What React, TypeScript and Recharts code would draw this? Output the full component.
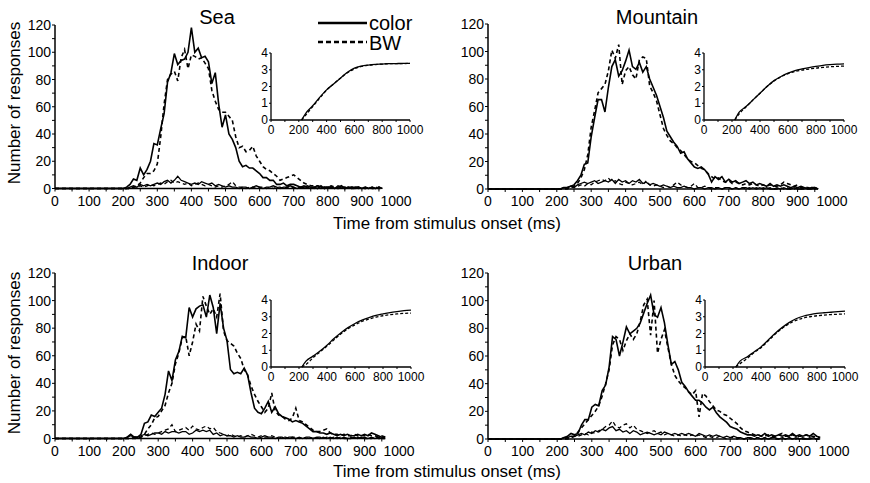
import React from "react";
import { LineChart, Line, XAxis, YAxis, ReferenceLine } from "recharts";

const FONT = "'Liberation Sans', Arial, Helvetica, sans-serif";

// histogram bins (ms after stimulus onset)
const TIMES = [
  0,
  200, 210, 220, 230, 240, 250, 260, 270, 280, 290,
  300, 310, 320, 330, 340, 350, 360, 370, 380, 390,
  400, 410, 420, 430, 440, 450, 460, 470, 480, 490,
  500, 510, 520, 530, 540, 550, 560, 570, 580, 590,
  600, 610, 620, 630, 640, 650, 660, 670, 680, 690,
  700, 710, 720, 730, 740, 750, 760, 770, 780, 790,
  800, 810, 820, 830, 840, 850, 860, 870, 880, 890,
  900, 910, 920, 930, 940, 950, 960,
];

// number of responses per bin: target trials (high) and distractor trials (low)
const SEA_COLOR = [
  0,
  0, 1, 3, 7, 6, 15, 10, 14, 20, 33,
  32, 44, 55, 78, 85, 99, 91, 94, 95, 100,
  118, 100, 103, 96, 97, 93, 77, 85, 62, 45,
  54, 40, 36, 30, 20, 16, 17, 15, 15, 13,
  11, 8, 8, 6, 6, 3, 3, 4, 2, 3,
  3, 2, 1, 1, 2, 1, 1, 0, 2, 0,
  1, 1, 0, 1, 2, 0, 1, 0, 1, 1,
  0, 1, 0, 1, 0, 1, 0,
];
const SEA_BW = [
  0,
  0, 0, 0, 1, 2, 4, 8, 11, 11, 13,
  18, 38, 62, 80, 84, 86, 79, 96, 102, 88,
  98, 97, 95, 96, 92, 88, 72, 64, 58, 56,
  56, 53, 50, 38, 30, 31, 27, 28, 31, 24,
  20, 16, 14, 13, 11, 9, 6, 7, 8, 9,
  10, 8, 6, 4, 3, 2, 2, 2, 1, 1,
  1, 2, 1, 0, 1, 1, 0, 1, 1, 0,
  1, 0, 1, 0, 1, 0, 0,
];
const SEA_COLOR_LOW = [
  0,
  0, 0, 1, 2, 1, 3, 2, 3, 2, 3,
  4, 3, 5, 6, 4, 6, 9, 6, 5, 4,
  3, 4, 3, 5, 4, 3, 4, 2, 3, 2,
  1, 2, 1, 1, 0, 1, 1, 0, 1, 2,
  1, 0, 1, 1, 2, 1, 0, 1, 1, 2,
  1, 0, 1, 2, 1, 0, 1, 2, 1, 0,
  1, 1, 0, 2, 1, 0, 1, 1, 0, 1,
  0, 1, 0, 1, 0, 1, 0,
];
const SEA_BW_LOW = [
  0,
  0, 0, 0, 1, 1, 2, 1, 2, 3, 2,
  3, 4, 3, 5, 6, 4, 5, 4, 3, 4,
  2, 3, 4, 3, 2, 3, 2, 1, 2, 1,
  2, 3, 5, 2, 1, 1, 0, 1, 1, 0,
  1, 1, 0, 1, 0, 1, 1, 0, 1, 0,
  1, 0, 1, 0, 1, 1, 0, 1, 0, 1,
  0, 1, 0, 0, 1, 0, 1, 0, 0, 1,
  0, 0, 1, 0, 0, 1, 0,
];

const MOUNTAIN_COLOR = [
  0,
  0, 0, 1, 1, 2, 3, 6, 10, 18, 19,
  38, 52, 65, 65, 56, 74, 89, 94, 82, 86,
  93, 101, 89, 87, 92, 85, 89, 80, 74, 68,
  60, 52, 42, 38, 34, 31, 26, 27, 22, 19,
  16, 15, 16, 14, 11, 5, 9, 7, 9, 5,
  7, 5, 6, 4, 5, 6, 4, 5, 3, 4,
  3, 2, 4, 2, 3, 2, 3, 2, 1, 2,
  1, 2, 1, 0, 1, 1, 0,
];
const MOUNTAIN_BW = [
  0,
  0, 0, 0, 0, 1, 2, 4, 8, 14, 25,
  45, 57, 70, 73, 76, 86, 101, 95, 105, 76,
  86, 89, 83, 80, 94, 96, 95, 75, 70, 64,
  54, 44, 39, 35, 33, 30, 28, 25, 22, 20,
  19, 17, 15, 14, 11, 9, 7, 8, 6, 5,
  6, 4, 5, 4, 3, 4, 3, 4, 3, 2,
  3, 2, 3, 2, 2, 3, 5, 4, 3, 2,
  3, 1, 1, 1, 0, 1, 0,
];
const MOUNTAIN_COLOR_LOW = [
  0,
  0, 0, 1, 1, 2, 1, 3, 4, 5, 4,
  5, 6, 4, 5, 6, 5, 7, 4, 7, 5,
  6, 4, 6, 5, 7, 4, 5, 3, 4, 3,
  2, 3, 2, 1, 2, 1, 1, 2, 1, 1,
  0, 1, 1, 0, 1, 1, 0, 1, 0, 1,
  1, 0, 1, 0, 1, 1, 0, 1, 0, 1,
  0, 1, 0, 0, 1, 0, 1, 0, 0, 1,
  0, 0, 1, 0, 0, 1, 0,
];
const MOUNTAIN_BW_LOW = [
  0,
  0, 0, 0, 1, 2, 1, 2, 3, 2, 4,
  3, 5, 6, 7, 6, 8, 5, 6, 4, 3,
  5, 4, 3, 4, 5, 3, 6, 3, 2, 3,
  2, 1, 2, 1, 3, 5, 3, 2, 1, 2,
  4, 1, 1, 2, 1, 0, 1, 1, 0, 1,
  1, 0, 1, 0, 1, 0, 1, 0, 1, 0,
  1, 0, 1, 0, 0, 1, 0, 1, 0, 0,
  1, 0, 0, 1, 0, 0, 0,
];

const INDOOR_COLOR = [
  0,
  0, 1, 3, 1, 1, 3, 11, 12, 17, 16,
  19, 22, 32, 49, 42, 57, 63, 74, 73, 95,
  88, 94, 96, 97, 88, 104, 95, 76, 98, 80,
  71, 50, 47, 48, 47, 51, 46, 33, 22, 19,
  18, 22, 27, 19, 23, 18, 16, 15, 14, 12,
  13, 12, 11, 9, 7, 5, 5, 4, 4, 3,
  4, 3, 2, 3, 2, 3, 2, 2, 3, 2,
  3, 2, 4, 3, 2, 1, 1,
];
const INDOOR_BW = [
  0,
  0, 0, 0, 0, 0, 1, 3, 7, 10, 15,
  16, 20, 24, 33, 40, 54, 62, 73, 74, 60,
  70, 83, 78, 103, 96, 90, 94, 88, 105, 78,
  71, 69, 67, 62, 58, 50, 46, 38, 32, 27,
  23, 19, 22, 33, 20, 17, 16, 14, 13, 15,
  22, 13, 12, 10, 8, 6, 5, 5, 6, 7,
  4, 3, 3, 2, 3, 2, 2, 3, 2, 2,
  2, 3, 2, 2, 1, 2, 1,
];
const INDOOR_COLOR_LOW = [
  0,
  0, 1, 2, 1, 1, 2, 3, 2, 3, 4,
  4, 3, 5, 4, 5, 5, 4, 5, 5, 3,
  4, 6, 5, 6, 5, 6, 3, 4, 2, 3,
  2, 2, 1, 2, 1, 1, 2, 1, 1, 0,
  1, 2, 1, 1, 0, 1, 1, 0, 1, 1,
  0, 1, 0, 1, 1, 0, 1, 0, 1, 0,
  1, 0, 1, 0, 1, 0, 0, 1, 0, 1,
  0, 0, 1, 0, 1, 0, 0,
];
const INDOOR_BW_LOW = [
  0,
  0, 0, 0, 1, 1, 1, 2, 3, 4, 3,
  4, 5, 6, 7, 10, 5, 6, 7, 8, 6,
  9, 7, 6, 8, 9, 7, 8, 5, 4, 3,
  2, 3, 2, 1, 2, 1, 2, 3, 2, 1,
  2, 1, 1, 2, 1, 0, 1, 1, 0, 1,
  1, 0, 1, 0, 1, 0, 1, 1, 0, 1,
  0, 1, 0, 1, 0, 0, 1, 0, 1, 0,
  1, 0, 0, 1, 0, 0, 0,
];

const URBAN_COLOR = [
  0,
  0, 0, 1, 2, 4, 3, 4, 10, 14, 14,
  23, 25, 24, 35, 39, 52, 74, 72, 60, 70,
  81, 76, 78, 80, 84, 91, 98, 104, 90, 88,
  95, 84, 68, 54, 56, 50, 41, 38, 34, 31,
  28, 28, 26, 23, 21, 23, 19, 16, 14, 12,
  9, 8, 7, 5, 4, 3, 3, 2, 3, 2,
  4, 2, 3, 2, 3, 2, 3, 2, 4, 2,
  3, 2, 3, 2, 4, 2, 1,
];
const URBAN_BW = [
  0,
  0, 0, 0, 0, 1, 2, 5, 8, 11, 14,
  17, 20, 24, 31, 40, 50, 68, 74, 72, 64,
  71, 76, 72, 76, 85, 97, 101, 75, 100, 62,
  72, 79, 66, 54, 46, 42, 39, 37, 34, 32,
  35, 16, 33, 31, 27, 24, 21, 20, 18, 17,
  15, 13, 11, 8, 6, 5, 4, 3, 3, 2,
  2, 3, 2, 2, 3, 4, 2, 2, 3, 2,
  2, 2, 3, 2, 2, 1, 1,
];
const URBAN_COLOR_LOW = [
  0,
  0, 0, 1, 1, 2, 2, 3, 4, 3, 5,
  4, 6, 5, 7, 6, 8, 9, 6, 7, 5,
  6, 4, 6, 5, 3, 4, 5, 4, 3, 4,
  3, 5, 4, 3, 4, 3, 4, 3, 4, 3,
  2, 4, 3, 2, 3, 2, 3, 2, 1, 2,
  1, 2, 1, 1, 0, 1, 1, 0, 1, 0,
  1, 0, 1, 1, 0, 1, 0, 1, 0, 1,
  0, 1, 0, 0, 1, 0, 0,
];
const URBAN_BW_LOW = [
  0,
  0, 0, 0, 1, 1, 2, 2, 3, 4, 3,
  5, 4, 6, 7, 9, 10, 13, 9, 8, 10,
  11, 8, 10, 7, 6, 5, 4, 5, 6, 4,
  5, 3, 4, 3, 2, 3, 2, 3, 2, 3,
  2, 3, 2, 1, 2, 1, 1, 2, 1, 0,
  1, 1, 0, 1, 0, 1, 0, 1, 1, 0,
  1, 0, 1, 0, 0, 1, 0, 1, 0, 0,
  1, 0, 0, 1, 0, 0, 0,
];

// cumulative responses (insets)
const CUM_TIMES = [220, 250, 300, 350, 400, 450, 500, 550, 600, 650, 700, 750, 800, 850, 900, 950, 1000];
const SEA_COLOR_CUM = [0, 0.4, 0.85, 1.35, 1.8, 2.15, 2.5, 2.85, 3.1, 3.22, 3.28, 3.32, 3.34, 3.36, 3.37, 3.38, 3.38];
const SEA_BW_CUM = [0, 0.3, 0.8, 1.3, 1.78, 2.15, 2.5, 2.82, 3.05, 3.2, 3.27, 3.31, 3.34, 3.36, 3.37, 3.37, 3.38];
const MOUNTAIN_COLOR_CUM = [0, 0.45, 0.8, 1.2, 1.6, 2.0, 2.35, 2.6, 2.8, 2.95, 3.05, 3.13, 3.2, 3.26, 3.3, 3.33, 3.35];
const MOUNTAIN_BW_CUM = [0, 0.35, 0.78, 1.2, 1.6, 2.0, 2.33, 2.58, 2.77, 2.9, 2.98, 3.04, 3.1, 3.14, 3.18, 3.2, 3.22];
const INDOOR_COLOR_CUM = [0, 0.35, 0.65, 0.95, 1.3, 1.7, 2.05, 2.35, 2.6, 2.8, 2.95, 3.08, 3.17, 3.25, 3.31, 3.36, 3.4];
const INDOOR_BW_CUM = [0, 0.15, 0.55, 0.9, 1.25, 1.62, 1.98, 2.28, 2.52, 2.72, 2.86, 2.98, 3.06, 3.12, 3.17, 3.2, 3.22];
const URBAN_COLOR_CUM = [0, 0.35, 0.6, 0.9, 1.2, 1.6, 2.0, 2.35, 2.65, 2.88, 3.03, 3.13, 3.2, 3.24, 3.27, 3.3, 3.33];
const URBAN_BW_CUM = [0, 0.2, 0.5, 0.85, 1.15, 1.55, 1.95, 2.3, 2.58, 2.78, 2.92, 3.0, 3.06, 3.1, 3.13, 3.15, 3.17];

// axis ticks
const X_TICKS = [0, 50, 100, 150, 200, 250, 300, 350, 400, 450, 500, 550, 600, 650, 700, 750, 800, 850, 900, 950, 1000];
const Y_TICKS = [0, 10, 20, 30, 40, 50, 60, 70, 80, 90, 100, 110, 120];
const INSET_X_TICKS = [0, 100, 200, 300, 400, 500, 600, 700, 800, 900, 1000];
const INSET_Y_TICKS = [0, 1, 2, 3, 4];

const AXIS_END = 955;

const makeRows = (colorHigh: number[], bwHigh: number[], colorLow: number[], bwLow: number[]) =>
  TIMES.map((t, i) => ({
    t,
    colorHigh: colorHigh[i],
    bwHigh: bwHigh[i],
    colorLow: colorLow[i],
    bwLow: bwLow[i],
  }));

const makeCumRows = (color: number[], bw: number[]) =>
  CUM_TIMES.map((t, i) => ({ t, color: color[i], bw: bw[i] }));

interface Box {
  x0: number;
  x1: number;
  y0: number;
  yTop: number;
}

const PANELS = [
  {
    title: "Sea",
    rows: makeRows(SEA_COLOR, SEA_BW, SEA_COLOR_LOW, SEA_BW_LOW),
    cum: makeCumRows(SEA_COLOR_CUM, SEA_BW_CUM),
    main: { x0: 55, x1: 396, y0: 188.5, yTop: 25 },
    inset: { x0: 271, x1: 410, y0: 120, yTop: 53 },
    titleX: 217,
    titleY: 17,
  },
  {
    title: "Mountain",
    rows: makeRows(MOUNTAIN_COLOR, MOUNTAIN_BW, MOUNTAIN_COLOR_LOW, MOUNTAIN_BW_LOW),
    cum: makeCumRows(MOUNTAIN_COLOR_CUM, MOUNTAIN_BW_CUM),
    main: { x0: 488, x1: 832, y0: 189, yTop: 24 },
    inset: { x0: 704, x1: 844, y0: 120, yTop: 53 },
    titleX: 657,
    titleY: 17,
  },
  {
    title: "Indoor",
    rows: makeRows(INDOOR_COLOR, INDOOR_BW, INDOOR_COLOR_LOW, INDOOR_BW_LOW),
    cum: makeCumRows(INDOOR_COLOR_CUM, INDOOR_BW_CUM),
    main: { x0: 55, x1: 399, y0: 438.5, yTop: 273 },
    inset: { x0: 271, x1: 411, y0: 367, yTop: 300 },
    titleX: 220,
    titleY: 263,
  },
  {
    title: "Urban",
    rows: makeRows(URBAN_COLOR, URBAN_BW, URBAN_COLOR_LOW, URBAN_BW_LOW),
    cum: makeCumRows(URBAN_COLOR_CUM, URBAN_BW_CUM),
    main: { x0: 488, x1: 834, y0: 439, yTop: 273 },
    inset: { x0: 705, x1: 845, y0: 367, yTop: 300 },
    titleX: 655,
    titleY: 263,
  },
];

const MainXTick = (props: any) => {
  const { x, y, payload } = props;
  const v = payload.value;
  return (
    <g>
      {v <= AXIS_END && <line x1={x} x2={x} y1={y} y2={y + 3} stroke="#000" strokeWidth={1} />}
      {v % 100 === 0 && (
        <text x={x} y={y + 17} textAnchor="middle" fontSize={14} fontFamily={FONT} fill="#000">
          {v}
        </text>
      )}
    </g>
  );
};

const MainYTick = (props: any) => {
  const { x, y, payload } = props;
  const v = payload.value;
  return (
    <g>
      <line x1={x - 3} x2={x} y1={y} y2={y} stroke="#000" strokeWidth={1} />
      {v % 20 === 0 && (
        <text x={x - 4} y={y + 5} textAnchor="end" fontSize={14} fontFamily={FONT} fill="#000">
          {v}
        </text>
      )}
    </g>
  );
};

const InsetXTick = (props: any) => {
  const { x, y, payload } = props;
  const v = payload.value;
  return (
    <g>
      <line x1={x} x2={x} y1={y} y2={y + 2} stroke="#000" strokeWidth={1} />
      {v % 200 === 0 && (
        <text x={x} y={y + 14} textAnchor="middle" fontSize={12} fontFamily={FONT} fill="#000">
          {v}
        </text>
      )}
    </g>
  );
};

const InsetYTick = (props: any) => {
  const { x, y, payload } = props;
  return (
    <g>
      <line x1={x - 2} x2={x} y1={y} y2={y} stroke="#000" strokeWidth={1} />
      <text x={x - 3} y={y + 4} textAnchor="end" fontSize={12} fontFamily={FONT} fill="#000">
        {payload.value}
      </text>
    </g>
  );
};

const Histogram = ({ box, rows }: { box: Box; rows: any[] }) => {
  const ML = 45;
  const MR = 26;
  const MT = 10;
  const MB = 36;
  const w = box.x1 - box.x0 + ML + MR;
  const h = box.y0 - box.yTop + MT + MB;
  return (
    <div style={{ position: "absolute", left: box.x0 - ML, top: box.yTop - MT }}>
      <LineChart width={w} height={h} data={rows} margin={{ top: MT, right: MR, bottom: 0, left: 0 }}>
        <XAxis
          dataKey="t"
          type="number"
          domain={[0, 1000]}
          ticks={X_TICKS}
          interval={0}
          height={MB}
          axisLine={false}
          tickLine={false}
          tickSize={0}
          tickMargin={0}
          tick={<MainXTick />}
        />
        <YAxis
          type="number"
          domain={[0, 120]}
          ticks={Y_TICKS}
          interval={0}
          width={ML}
          axisLine={{ stroke: "#000", strokeWidth: 1.5 }}
          tickLine={false}
          tickSize={0}
          tickMargin={0}
          tick={<MainYTick />}
        />
        <ReferenceLine
          segment={[{ x: 0, y: 0 }, { x: AXIS_END, y: 0 }]}
          stroke="#000"
          strokeWidth={1.5}
          ifOverflow="visible"
        />
        <Line dataKey="colorLow" stroke="#000" strokeWidth={1.3} dot={false} activeDot={false} isAnimationActive={false} />
        <Line dataKey="bwLow" stroke="#000" strokeWidth={1.3} strokeDasharray="4 3" dot={false} activeDot={false} isAnimationActive={false} />
        <Line dataKey="bwHigh" stroke="#000" strokeWidth={1.6} strokeDasharray="4 3" dot={false} activeDot={false} isAnimationActive={false} />
        <Line dataKey="colorHigh" stroke="#000" strokeWidth={1.6} dot={false} activeDot={false} isAnimationActive={false} />
      </LineChart>
    </div>
  );
};

const Cumulative = ({ box, rows }: { box: Box; rows: any[] }) => {
  const ML = 20;
  const MR = 18;
  const MT = 8;
  const MB = 20;
  const w = box.x1 - box.x0 + ML + MR;
  const h = box.y0 - box.yTop + MT + MB;
  return (
    <div style={{ position: "absolute", left: box.x0 - ML, top: box.yTop - MT }}>
      <LineChart width={w} height={h} data={rows} margin={{ top: MT, right: MR, bottom: 0, left: 0 }}>
        <XAxis
          dataKey="t"
          type="number"
          domain={[0, 1000]}
          ticks={INSET_X_TICKS}
          interval={0}
          height={MB}
          axisLine={{ stroke: "#000", strokeWidth: 1.3 }}
          tickLine={false}
          tickSize={0}
          tickMargin={0}
          tick={<InsetXTick />}
        />
        <YAxis
          type="number"
          domain={[0, 4]}
          ticks={INSET_Y_TICKS}
          interval={0}
          width={ML}
          axisLine={{ stroke: "#000", strokeWidth: 1.3 }}
          tickLine={false}
          tickSize={0}
          tickMargin={0}
          tick={<InsetYTick />}
        />
        <Line type="monotone" dataKey="bw" stroke="#000" strokeWidth={1.3} strokeDasharray="3 2" dot={false} activeDot={false} isAnimationActive={false} />
        <Line type="monotone" dataKey="color" stroke="#000" strokeWidth={1.3} dot={false} activeDot={false} isAnimationActive={false} />
      </LineChart>
    </div>
  );
};

const textStyle: React.CSSProperties = {
  position: "absolute",
  fontFamily: FONT,
  color: "#000",
  whiteSpace: "nowrap",
  textAlign: "center",
};

export default function App() {
  return (
    <div
      style={{
        position: "absolute",
        left: 0,
        top: 0,
        width: 870,
        height: 483,
        background: "#fff",
        overflow: "hidden",
      }}
    >
      {PANELS.map((p) => (
        <React.Fragment key={p.title}>
          <Histogram box={p.main} rows={p.rows} />
          <Cumulative box={p.inset} rows={p.cum} />
          <div style={{ ...textStyle, left: p.titleX - 60, top: p.titleY - 10, width: 120, fontSize: 20, lineHeight: "20px" }}>
            {p.title}
          </div>
        </React.Fragment>
      ))}

      {[224, 472].map((cy) => (
        <div key={`xl-${cy}`} style={{ ...textStyle, left: 297, top: cy - 10, width: 300, fontSize: 17, lineHeight: "20px" }}>
          Time from stimulus onset (ms)
        </div>
      ))}
      {[103, 353].map((cy) => (
        <div
          key={`yl-${cy}`}
          style={{
            ...textStyle,
            left: 15 - 100,
            top: cy - 10,
            width: 200,
            fontSize: 17,
            lineHeight: "20px",
            transform: "rotate(-90deg)",
          }}
        >
          Number of responses
        </div>
      ))}

      <svg width={120} height={60} style={{ position: "absolute", left: 312, top: 6 }}>
        <line x1={6} x2={55} y1={17} y2={17} stroke="#000" strokeWidth={2.5} />
        <text x={57} y={24} fontSize={20} fontFamily={FONT} fill="#000">
          color
        </text>
        <line x1={6} x2={55} y1={36} y2={36} stroke="#000" strokeWidth={2.5} strokeDasharray="5 3" />
        <text x={57} y={44} fontSize={20} fontFamily={FONT} fill="#000">
          BW
        </text>
      </svg>
    </div>
  );
}
